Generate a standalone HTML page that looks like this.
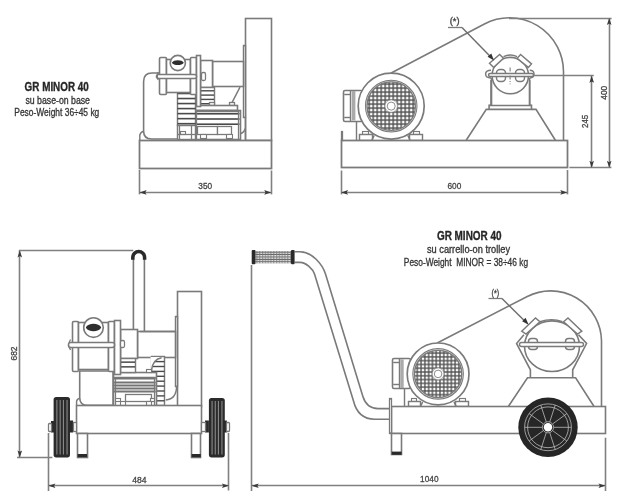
<!DOCTYPE html>
<html><head><meta charset="utf-8"><style>
html,body{margin:0;padding:0;background:#fff;}
svg{display:block;}
text{font-family:"Liberation Sans",sans-serif;}
</style></head><body>
<svg width="617" height="500" viewBox="0 0 617 500">
<defs>
<pattern id="grA" width="4" height="4" patternUnits="userSpaceOnUse" x="389.20" y="104.10"><rect width="4" height="4" fill="#535353"/><rect x="0.73" y="0.73" width="2.55" height="2.55" fill="#fff"/></pattern>
<pattern id="grB" width="3.78" height="3.78" patternUnits="userSpaceOnUse" x="436.21" y="372.01"><rect width="3.78" height="3.78" fill="#535353"/><rect x="0.69" y="0.69" width="2.4" height="2.4" fill="#fff"/></pattern>
<pattern id="grip" width="2.8" height="2.4" patternUnits="userSpaceOnUse" x="255.4" y="251"><rect width="2.8" height="2.4" fill="#fff"/><rect x="0" y="0.6" width="2.8" height="1.1" fill="#555"/><rect x="1.2" y="0" width="0.9" height="2.4" fill="#777"/></pattern>
</defs>
<rect x="245.5" y="18.5" width="26.0" height="122.0" rx="0" fill="#fff" stroke="#7a7a7a" stroke-width="1.60"/>
<rect x="243.5" y="45.5" width="2.0" height="72.0" rx="0" fill="#fff" stroke="#7a7a7a" stroke-width="1.44"/>
<line x1="245.5" y1="117.5" x2="245.5" y2="140" stroke="#7a7a7a" stroke-width="1.44"/>
<path d="M245.3,128.5 Q244,133 239.5,134" fill="none" stroke="#7a7a7a" stroke-width="1.44"/>
<rect x="212.5" y="61.5" width="31.0" height="25.0" rx="0" fill="#fff" stroke="#7a7a7a" stroke-width="1.60"/>
<rect x="200.5" y="60.5" width="12.0" height="27.0" rx="0" fill="#fff" stroke="#7a7a7a" stroke-width="1.60"/>
<line x1="240" y1="87.2" x2="231.6" y2="103.4" stroke="#7a7a7a" stroke-width="1.44"/>
<rect x="200.5" y="87.5" width="14.0" height="18.0" rx="0" fill="#fff" stroke="#7a7a7a" stroke-width="1.44"/>
<rect x="200.5" y="90.10" width="13.50" height="1.4" fill="#4a4a4a"/>
<rect x="200.5" y="94.40" width="13.50" height="1.4" fill="#4a4a4a"/>
<rect x="200.5" y="98.70" width="13.50" height="1.4" fill="#4a4a4a"/>
<rect x="200.5" y="103.00" width="13.50" height="1.4" fill="#4a4a4a"/>
<rect x="229.5" y="102.5" width="5.0" height="3.0" rx="0" fill="#fff" stroke="#7a7a7a" stroke-width="1.28"/>
<rect x="209.5" y="102.5" width="5.0" height="3.0" rx="0" fill="#fff" stroke="#7a7a7a" stroke-width="1.28"/>
<rect x="195.5" y="105.5" width="42.0" height="5.0" rx="0" fill="#fff" stroke="#7a7a7a" stroke-width="1.60"/>
<rect x="195.5" y="110.5" width="45.0" height="29.0" rx="0" fill="#fff" stroke="#7a7a7a" stroke-width="1.60"/>
<line x1="196" y1="111.5" x2="239.5" y2="111.5" stroke="#7a7a7a" stroke-width="1.44"/>
<rect x="196" y="113.0" width="43.5" height="1.6" fill="#4a4a4a"/>
<rect x="196" y="118.2" width="43.5" height="1.6" fill="#4a4a4a"/>
<rect x="196" y="123.4" width="43.5" height="1.6" fill="#4a4a4a"/>
<line x1="196.5" y1="110.5" x2="196.5" y2="139.4" stroke="#7a7a7a" stroke-width="1.28"/>
<line x1="238.5" y1="110.5" x2="238.5" y2="139.4" stroke="#7a7a7a" stroke-width="1.28"/>
<rect x="197.5" y="126.5" width="20.0" height="8.0" rx="0" fill="#fff" stroke="#7a7a7a" stroke-width="1.28"/>
<rect x="217.5" y="126.5" width="14.0" height="8.0" rx="0" fill="#fff" stroke="#7a7a7a" stroke-width="1.28"/>
<rect x="200.5" y="134.5" width="6.0" height="4.0" rx="0" fill="#fff" stroke="#7a7a7a" stroke-width="1.12"/>
<rect x="226.5" y="134.5" width="6.0" height="4.0" rx="0" fill="#fff" stroke="#7a7a7a" stroke-width="1.12"/>
<path d="M143.6,131 L143.6,81.5 Q143.6,73 152,73 L185,73 L185,139 L151.6,139 Q143.6,139 143.6,131 Z" fill="#fff" stroke="#7a7a7a" stroke-width="1.60"/>
<path d="M139.8,140 L139.8,135 Q141,131.5 143.6,131.5" fill="none" stroke="#7a7a7a" stroke-width="1.44"/>
<rect x="177.5" y="92.5" width="18.0" height="33.0" rx="0" fill="#fff" stroke="#7a7a7a" stroke-width="1.44"/>
<rect x="177.4" y="92.70" width="18.20" height="1.6" fill="#4a4a4a"/>
<rect x="177.4" y="97.73" width="18.20" height="1.6" fill="#4a4a4a"/>
<rect x="177.4" y="102.76" width="18.20" height="1.6" fill="#4a4a4a"/>
<rect x="177.4" y="107.79" width="18.20" height="1.6" fill="#4a4a4a"/>
<rect x="177.4" y="112.82" width="18.20" height="1.6" fill="#4a4a4a"/>
<rect x="177.4" y="117.85" width="18.20" height="1.6" fill="#4a4a4a"/>
<rect x="177.4" y="122.88" width="18.20" height="1.6" fill="#4a4a4a"/>
<rect x="177.5" y="125.5" width="18.0" height="14.0" rx="0" fill="#fff" stroke="#7a7a7a" stroke-width="1.44"/>
<line x1="179.5" y1="125.2" x2="179.5" y2="139.4" stroke="#7a7a7a" stroke-width="1.28"/>
<line x1="191.5" y1="125.2" x2="191.5" y2="139.4" stroke="#7a7a7a" stroke-width="1.28"/>
<rect x="180.5" y="131.5" width="5.0" height="3.0" rx="0" fill="#fff" stroke="#7a7a7a" stroke-width="1.12"/>
<line x1="177.4" y1="134.5" x2="195.6" y2="134.5" stroke="#7a7a7a" stroke-width="1.28"/>
<rect x="159.5" y="57.5" width="7.0" height="37.0" rx="1.2" fill="#fff" stroke="#7a7a7a" stroke-width="1.60"/>
<rect x="166.5" y="59.5" width="24.0" height="33.0" rx="0" fill="#fff" stroke="#7a7a7a" stroke-width="1.60"/>
<rect x="190.5" y="57.5" width="6.0" height="37.0" rx="1" fill="#fff" stroke="#7a7a7a" stroke-width="1.60"/>
<rect x="196.5" y="55.5" width="4.0" height="51.0" rx="0" fill="#fff" stroke="#7a7a7a" stroke-width="1.60"/>
<circle cx="177.8" cy="63" r="7.6" fill="#fff" stroke="#7a7a7a" stroke-width="1.60"/>
<path d="M171.8,62.7 C173.5,59.4 182.1,59.4 183.8,62.7 C182.1,65.9 173.5,65.9 171.8,62.7 Z" fill="#2e2e2e"/>
<rect x="156.5" y="74.5" width="40.0" height="4.0" rx="2" fill="#fff" stroke="#7a7a7a" stroke-width="1.60"/>
<path d="M158,72 Q156.5,76 158,80" fill="none" stroke="#7a7a7a" stroke-width="1.28"/>
<rect x="201.5" y="72.5" width="4.0" height="8.0" rx="1.5" fill="#fff" stroke="#7a7a7a" stroke-width="1.28"/>
<rect x="139.5" y="140.5" width="132.0" height="28.0" rx="0" fill="#fff" stroke="#7a7a7a" stroke-width="1.76"/>
<path d="M391.2,73 L484.4,24 A54,54 0 0 1 563.5,72 L563.5,140.2" fill="#fff" stroke="#7a7a7a" stroke-width="1.60"/>
<path d="M466.2,140.3 L486.3,109.4 L536,109.4 L555.4,140.3" fill="#fff" stroke="#7a7a7a" stroke-width="1.60"/>
<path d="M489.1,109.4 L489.1,105.2 L491,105.2 L491,80 M529.7,80 L529.7,105.2 L531.5,105.2 L531.5,109.4" fill="none" stroke="#7a7a7a" stroke-width="1.60"/>
<rect x="491.5" y="80.5" width="38.0" height="25.0" rx="0" fill="#fff" stroke="#7a7a7a" stroke-width="0.00"/>
<line x1="491.5" y1="78" x2="491.5" y2="105.2" stroke="#7a7a7a" stroke-width="1.60"/>
<line x1="529.5" y1="78" x2="529.5" y2="105.2" stroke="#7a7a7a" stroke-width="1.60"/>
<line x1="489.1" y1="105.5" x2="531.5" y2="105.5" stroke="#7a7a7a" stroke-width="1.44"/>
<circle cx="510.3" cy="75.6" r="18.2" fill="#fff" stroke="#7a7a7a" stroke-width="1.60"/>
<path d="M503.5,56.6 Q510.3,53.5 517.1,56.6" fill="none" stroke="#7a7a7a" stroke-width="1.44"/>
<polygon points="489.5,63.2 499.6,54.5 503.5,58.3 493.7,67.4" fill="#fff" stroke="#7a7a7a" stroke-width="1.44"/>
<polygon points="520.6,54.5 531.5,63.9 528.3,67.4 517.1,58.3" fill="#fff" stroke="#7a7a7a" stroke-width="1.44"/>
<rect x="496.5" y="69.5" width="9.0" height="12.0" rx="3.5" fill="#fff" stroke="#7a7a7a" stroke-width="1.44"/>
<rect x="515.5" y="69.5" width="9.0" height="12.0" rx="3.5" fill="#fff" stroke="#7a7a7a" stroke-width="1.44"/>
<path d="M491,70.2 Q485.6,70.2 485.6,74.1 Q485.6,78 491,78" fill="none" stroke="#7a7a7a" stroke-width="1.44"/>
<path d="M529.7,70.2 Q534,70.2 534,74.1 Q534,78 529.7,78" fill="none" stroke="#7a7a7a" stroke-width="1.44"/>
<rect x="488.5" y="73.5" width="45.0" height="3.0" rx="1.6" fill="#fff" stroke="#7a7a7a" stroke-width="1.44"/>
<line x1="510.1" y1="67.4" x2="510.1" y2="84.2" stroke="#808080" stroke-width="1.12" stroke-dasharray="4,1.5,1,1.5"/>
<line x1="448" y1="27.5" x2="462" y2="27.5" stroke="#7a7a7a" stroke-width="1.28"/>
<line x1="462" y1="27.4" x2="491.5" y2="57.8" stroke="#6e6e6e" stroke-width="1.44"/>
<polygon points="494,60.5 487.6,56.8 491.3,53.4" fill="#333"/>
<rect x="343.5" y="90.5" width="19.0" height="31.0" rx="1.5" fill="#fff" stroke="#7a7a7a" stroke-width="1.60"/>
<line x1="350.5" y1="90.4" x2="350.5" y2="121" stroke="#7a7a7a" stroke-width="1.44"/>
<line x1="344.2" y1="94.5" x2="350.6" y2="94.5" stroke="#7a7a7a" stroke-width="1.44"/>
<line x1="344.2" y1="117.5" x2="350.6" y2="117.5" stroke="#7a7a7a" stroke-width="1.44"/>
<rect x="351.8" y="90.9" width="3.6" height="29.6" fill="#aaa"/>
<line x1="356.5" y1="121" x2="356.5" y2="140.2" stroke="#7a7a7a" stroke-width="1.44"/>
<rect x="362.5" y="131.5" width="6.0" height="3.0" rx="0" fill="#fff" stroke="#7a7a7a" stroke-width="1.12"/>
<rect x="413.5" y="131.5" width="6.0" height="3.0" rx="0" fill="#fff" stroke="#7a7a7a" stroke-width="1.12"/>
<rect x="359.5" y="134.5" width="13.0" height="6.0" rx="0" fill="#fff" stroke="#7a7a7a" stroke-width="1.44"/>
<rect x="409.5" y="134.5" width="13.0" height="6.0" rx="0" fill="#fff" stroke="#7a7a7a" stroke-width="1.44"/>
<line x1="372" y1="140" x2="374.2" y2="135.4" stroke="#7a7a7a" stroke-width="1.44"/>
<line x1="410" y1="140" x2="407.8" y2="135.4" stroke="#7a7a7a" stroke-width="1.44"/>
<circle cx="391.2" cy="106.1" r="33" fill="#fff" stroke="#7a7a7a" stroke-width="1.68"/>
<circle cx="391.2" cy="106.1" r="25.5" fill="url(#grA)" stroke="#7a7a7a" stroke-width="1.60"/>
<circle cx="391.2" cy="106.1" r="24.85" fill="none" stroke="#fff" stroke-width="0.7"/>
<circle cx="391.2" cy="106.1" r="24.2" fill="none" stroke="#7a7a7a" stroke-width="1.28"/>
<circle cx="391.2" cy="106.1" r="6.2" fill="#fff" stroke="#999" stroke-width="0.6"/>
<circle cx="391.2" cy="106.1" r="4" fill="#fff" stroke="#707070" stroke-width="0.8"/>
<rect x="341.5" y="140.5" width="226.0" height="27.0" rx="0" fill="#fff" stroke="#7a7a7a" stroke-width="1.76"/>
<rect x="341.5" y="131.5" width="1.0" height="9.0" rx="0" fill="#fff" stroke="#7a7a7a" stroke-width="1.28"/>
<rect x="177.5" y="291.5" width="24.0" height="115.0" rx="0" fill="#fff" stroke="#7a7a7a" stroke-width="1.60"/>
<rect x="175.5" y="316.5" width="2.0" height="70.0" rx="0" fill="#fff" stroke="#7a7a7a" stroke-width="1.44"/>
<path d="M176.6,386 Q176.6,399 165.8,400" fill="none" stroke="#7a7a7a" stroke-width="1.44"/>
<path d="M133.4,329.4 L133.4,257.5 A5.5,5.5 0 0 1 144.4,257.5 L144.4,331.4" fill="#fff" stroke="#7a7a7a" stroke-width="1.60"/>
<path d="M132.8,259.8 L132.8,257.5 A5.9,5.9 0 0 1 144.6,257.5 L144.6,259.8" fill="none" stroke="#2a2a2a" stroke-width="3.52"/>
<rect x="137.5" y="331.5" width="38.0" height="26.0" rx="0" fill="#fff" stroke="#7a7a7a" stroke-width="1.60"/>
<rect x="120.5" y="329.5" width="17.0" height="29.0" rx="0" fill="#fff" stroke="#7a7a7a" stroke-width="1.60"/>
<line x1="140" y1="331.5" x2="175.4" y2="331.5" stroke="#7a7a7a" stroke-width="1.60"/>
<rect x="151.5" y="356.5" width="13.0" height="49.0" rx="0" fill="#fff" stroke="#7a7a7a" stroke-width="1.44"/>
<rect x="151" y="360.90" width="13.50" height="1.4" fill="#4a4a4a"/>
<rect x="151" y="365.80" width="13.50" height="1.4" fill="#4a4a4a"/>
<rect x="151" y="370.70" width="13.50" height="1.4" fill="#4a4a4a"/>
<rect x="151" y="375.60" width="13.50" height="1.4" fill="#4a4a4a"/>
<rect x="151" y="380.50" width="13.50" height="1.4" fill="#4a4a4a"/>
<rect x="151" y="385.40" width="13.50" height="1.4" fill="#4a4a4a"/>
<rect x="151" y="390.30" width="13.50" height="1.4" fill="#4a4a4a"/>
<rect x="151" y="395.20" width="13.50" height="1.4" fill="#4a4a4a"/>
<rect x="151" y="400.10" width="13.50" height="1.4" fill="#4a4a4a"/>
<path d="M150.5,357.1 L161.6,357.1 Q153,359 151.4,370.4 L150.5,370.4 Z" fill="#fff"/>
<path d="M151.4,370.4 Q153,359 161.6,357.8" fill="none" stroke="#7a7a7a" stroke-width="1.44"/>
<rect x="113.5" y="372.5" width="43.0" height="34.0" rx="0" fill="#fff" stroke="#7a7a7a" stroke-width="1.60"/>
<line x1="113.5" y1="377.5" x2="155.7" y2="377.5" stroke="#7a7a7a" stroke-width="1.44"/>
<line x1="113.5" y1="378.5" x2="155.7" y2="378.5" stroke="#747474" stroke-width="1.92"/>
<line x1="113.5" y1="382.5" x2="155.7" y2="382.5" stroke="#747474" stroke-width="1.92"/>
<line x1="113.5" y1="385.5" x2="155.7" y2="385.5" stroke="#747474" stroke-width="1.92"/>
<line x1="113.5" y1="388.5" x2="155.7" y2="388.5" stroke="#747474" stroke-width="1.92"/>
<line x1="113.5" y1="391.5" x2="155.7" y2="391.5" stroke="#747474" stroke-width="1.92"/>
<line x1="115.5" y1="377" x2="115.5" y2="405.6" stroke="#7a7a7a" stroke-width="1.28"/>
<line x1="154.5" y1="377" x2="154.5" y2="405.6" stroke="#7a7a7a" stroke-width="1.28"/>
<rect x="125.5" y="394.5" width="26.0" height="7.0" rx="0" fill="#fff" stroke="#7a7a7a" stroke-width="1.28"/>
<rect x="126.5" y="369.5" width="5.0" height="3.0" rx="0" fill="#fff" stroke="#7a7a7a" stroke-width="1.12"/>
<rect x="146.5" y="369.5" width="5.0" height="3.0" rx="0" fill="#fff" stroke="#7a7a7a" stroke-width="1.12"/>
<rect x="115.5" y="398.5" width="5.0" height="3.0" rx="0" fill="#fff" stroke="#7a7a7a" stroke-width="1.12"/>
<rect x="150.5" y="398.5" width="4.0" height="3.0" rx="0" fill="#fff" stroke="#7a7a7a" stroke-width="1.12"/>
<rect x="120.5" y="401.5" width="5.0" height="4.0" rx="0" fill="#fff" stroke="#7a7a7a" stroke-width="1.12"/>
<rect x="146.5" y="401.5" width="5.0" height="4.0" rx="0" fill="#fff" stroke="#7a7a7a" stroke-width="1.12"/>
<rect x="120.5" y="358.5" width="15.0" height="14.0" rx="0" fill="#fff" stroke="#7a7a7a" stroke-width="1.44"/>
<rect x="120.8" y="361.40" width="14.20" height="1.5" fill="#4a4a4a"/>
<rect x="120.8" y="366.10" width="14.20" height="1.5" fill="#4a4a4a"/>
<path d="M79.7,371 L79.7,397.5 Q79.7,405.4 87.6,405.4 L113,405.4 L113,371 Z" fill="#fff" stroke="#7a7a7a" stroke-width="1.60"/>
<path d="M76.6,405.6 L76.6,401 Q77.5,398.5 79.7,398.5" fill="none" stroke="#7a7a7a" stroke-width="1.44"/>
<rect x="72.5" y="321.5" width="6.0" height="50.0" rx="1.2" fill="#fff" stroke="#7a7a7a" stroke-width="1.60"/>
<rect x="78.5" y="322.5" width="30.0" height="47.0" rx="0" fill="#fff" stroke="#7a7a7a" stroke-width="1.60"/>
<rect x="108.5" y="321.5" width="6.0" height="50.0" rx="1" fill="#fff" stroke="#7a7a7a" stroke-width="1.60"/>
<rect x="114.5" y="320.5" width="6.0" height="54.0" rx="0" fill="#fff" stroke="#7a7a7a" stroke-width="1.60"/>
<circle cx="93.5" cy="327.6" r="9.8" fill="#fff" stroke="#7a7a7a" stroke-width="1.60"/>
<path d="M85.8,327.6 C88,322.6 99,322.6 101.2,327.6 C99,332.6 88,332.6 85.8,327.6 Z" fill="#2e2e2e"/>
<path d="M70.5,339.5 Q67.5,344.7 70.5,350" fill="none" stroke="#7a7a7a" stroke-width="1.28"/>
<rect x="68.5" y="342.5" width="46.0" height="5.0" rx="2.2" fill="#fff" stroke="#7a7a7a" stroke-width="1.60"/>
<rect x="120.5" y="340.5" width="4.0" height="7.0" rx="1.5" fill="#fff" stroke="#7a7a7a" stroke-width="1.28"/>
<rect x="76.5" y="405.5" width="125.0" height="28.0" rx="0" fill="#fff" stroke="#7a7a7a" stroke-width="1.60"/>
<rect x="77.5" y="433.5" width="10.0" height="24.0" rx="0" fill="#fff" stroke="#7a7a7a" stroke-width="1.60"/>
<rect x="77.6" y="454" width="9.4" height="3.2" fill="#2a2a2a"/>
<rect x="191.5" y="433.5" width="9.0" height="24.0" rx="0" fill="#fff" stroke="#7a7a7a" stroke-width="1.60"/>
<rect x="191.6" y="454" width="9.2" height="3.2" fill="#2a2a2a"/>
<rect x="53.6" y="397" width="16.40" height="60.40" rx="2.6" fill="#2b2b2b"/>
<line x1="56.88" y1="400" x2="56.88" y2="454.4" stroke="#8a8a8a" stroke-width="1.1"/>
<line x1="60.16" y1="400" x2="60.16" y2="454.4" stroke="#8a8a8a" stroke-width="1.1"/>
<line x1="63.44" y1="400" x2="63.44" y2="454.4" stroke="#8a8a8a" stroke-width="1.1"/>
<line x1="67.05" y1="400" x2="67.05" y2="454.4" stroke="#8a8a8a" stroke-width="1.1"/>
<rect x="208.9" y="398" width="15.90" height="59.40" rx="2.6" fill="#2b2b2b"/>
<line x1="212.08" y1="401" x2="212.08" y2="454.4" stroke="#8a8a8a" stroke-width="1.1"/>
<line x1="215.26" y1="401" x2="215.26" y2="454.4" stroke="#8a8a8a" stroke-width="1.1"/>
<line x1="218.44" y1="401" x2="218.44" y2="454.4" stroke="#8a8a8a" stroke-width="1.1"/>
<line x1="221.94" y1="401" x2="221.94" y2="454.4" stroke="#8a8a8a" stroke-width="1.1"/>
<rect x="51" y="421" width="3" height="11.5" fill="#2b2b2b"/>
<rect x="48.5" y="423.5" width="3.0" height="8.0" rx="1" fill="#fff" stroke="#7a7a7a" stroke-width="1.28"/>
<rect x="69.6" y="420.5" width="3.5" height="12" fill="#2b2b2b"/>
<rect x="73.5" y="422.5" width="3.0" height="9.0" rx="0" fill="#fff" stroke="#7a7a7a" stroke-width="1.28"/>
<rect x="205" y="420.5" width="3.9" height="12" fill="#2b2b2b"/>
<rect x="201.5" y="422.5" width="4.0" height="9.0" rx="0" fill="#fff" stroke="#7a7a7a" stroke-width="1.28"/>
<rect x="224" y="420.5" width="2.8" height="12" fill="#2b2b2b"/>
<rect x="226.5" y="422.5" width="3.0" height="9.0" rx="1" fill="#fff" stroke="#7a7a7a" stroke-width="1.28"/>
<path d="M437.2,343 L527.3,296.5 A50.9,50.9 0 0 1 601.5,340.6 L601.5,406.3" fill="#fff" stroke="#7a7a7a" stroke-width="1.60"/>
<path d="M508.5,406.3 L527.5,377.8 L575.6,377.8 L593.9,406.3" fill="#fff" stroke="#7a7a7a" stroke-width="1.60"/>
<path d="M530.4,377.8 L530.4,369.8 L516.6,343.5 L523.9,334.8 M572.7,377.8 L572.7,369.8 L586.6,343.5 L578.5,334.8" fill="#fff" stroke="#7a7a7a" stroke-width="1.60"/>
<ellipse cx="552" cy="346.2" rx="27.5" ry="25.3" fill="#fff" stroke="#7a7a7a" stroke-width="1.60"/>
<path d="M539.9,321.7 Q551.8,317.5 562.5,321.7" fill="none" stroke="#7a7a7a" stroke-width="1.44"/>
<polygon points="521.7,331.2 535.5,318 539.9,321.7 526,334" fill="#fff" stroke="#7a7a7a" stroke-width="1.44"/>
<polygon points="568,318 581.8,331.2 577.5,334 563.6,321.7" fill="#fff" stroke="#7a7a7a" stroke-width="1.44"/>
<rect x="528.5" y="338.5" width="9.0" height="11.0" rx="3" fill="#fff" stroke="#7a7a7a" stroke-width="1.44"/>
<rect x="565.5" y="338.5" width="9.0" height="11.0" rx="3" fill="#fff" stroke="#7a7a7a" stroke-width="1.44"/>
<rect x="519.5" y="342.5" width="64.0" height="4.0" rx="2" fill="#fff" stroke="#7a7a7a" stroke-width="1.44"/>
<line x1="488.5" y1="298.5" x2="502" y2="298.5" stroke="#7a7a7a" stroke-width="1.28"/>
<line x1="502" y1="298.5" x2="526" y2="322.2" stroke="#6e6e6e" stroke-width="1.44"/>
<polygon points="528.6,324.8 522.1,321.2 525.6,317.7" fill="#333"/>
<path d="M294.6,251.7 L300,251.7 C312,251.7 322.5,264.5 325.5,274 L362.8,396.3 Q366.6,408.6 378,408.6 L390,408.6" fill="none" stroke="#7a7a7a" stroke-width="1.60"/>
<path d="M294.6,262.4 L300,262.4 C306,262.4 313,269.2 314.5,274 L353.5,401 Q358,419.2 374.7,419.2 L390,419.2" fill="none" stroke="#7a7a7a" stroke-width="1.60"/>
<rect x="255.4" y="251" width="35.6" height="12.4" fill="url(#grip)"/>
<rect x="251.7" y="250" width="3.8" height="14.3" rx="1" fill="#2a2a2a"/>
<rect x="291" y="250" width="3.6" height="14.3" rx="1" fill="#2a2a2a"/>
<rect x="392.5" y="358.5" width="18.0" height="30.0" rx="1.5" fill="#fff" stroke="#7a7a7a" stroke-width="1.60"/>
<line x1="399.5" y1="358.8" x2="399.5" y2="388.5" stroke="#7a7a7a" stroke-width="1.44"/>
<line x1="393.2" y1="362.5" x2="399.2" y2="362.5" stroke="#7a7a7a" stroke-width="1.44"/>
<line x1="393.2" y1="384.5" x2="399.2" y2="384.5" stroke="#7a7a7a" stroke-width="1.44"/>
<rect x="400.3" y="359.3" width="3.4" height="28.7" fill="#aaa"/>
<line x1="404.5" y1="388.5" x2="404.5" y2="406.3" stroke="#7a7a7a" stroke-width="1.44"/>
<rect x="411.5" y="398.5" width="5.0" height="3.0" rx="0" fill="#fff" stroke="#7a7a7a" stroke-width="1.12"/>
<rect x="459.5" y="398.5" width="6.0" height="3.0" rx="0" fill="#fff" stroke="#7a7a7a" stroke-width="1.12"/>
<rect x="408.5" y="401.5" width="12.0" height="5.0" rx="0" fill="#fff" stroke="#7a7a7a" stroke-width="1.44"/>
<rect x="455.5" y="401.5" width="13.0" height="5.0" rx="0" fill="#fff" stroke="#7a7a7a" stroke-width="1.44"/>
<line x1="420.6" y1="406.1" x2="422.7" y2="401.9" stroke="#7a7a7a" stroke-width="1.44"/>
<line x1="456" y1="406.1" x2="454" y2="401.9" stroke="#7a7a7a" stroke-width="1.44"/>
<circle cx="438.1" cy="373.9" r="30.9" fill="#fff" stroke="#7a7a7a" stroke-width="1.68"/>
<circle cx="438.1" cy="373.9" r="25" fill="url(#grB)" stroke="#7a7a7a" stroke-width="1.60"/>
<circle cx="438.1" cy="373.9" r="24.3" fill="none" stroke="#fff" stroke-width="0.7"/>
<circle cx="438.1" cy="373.9" r="23.6" fill="none" stroke="#7a7a7a" stroke-width="1.28"/>
<circle cx="438.1" cy="373.9" r="5.8" fill="#fff" stroke="#999" stroke-width="0.6"/>
<circle cx="438.1" cy="373.9" r="3.8" fill="#fff" stroke="#707070" stroke-width="0.8"/>
<rect x="391.5" y="406.5" width="214.0" height="27.0" rx="0" fill="#fff" stroke="#7a7a7a" stroke-width="1.60"/>
<rect x="389.5" y="398.5" width="2.0" height="35.0" rx="0" fill="#fff" stroke="#7a7a7a" stroke-width="1.28"/>
<rect x="391.5" y="433.5" width="10.0" height="21.0" rx="0" fill="#fff" stroke="#7a7a7a" stroke-width="1.60"/>
<rect x="391.8" y="451.6" width="9.8" height="3.2" fill="#2a2a2a"/>
<circle cx="548" cy="427.3" r="29.7" fill="#262626" stroke="none" stroke-width="0"/>
<circle cx="548" cy="427.3" r="23.4" fill="none" stroke="#bbb" stroke-width="0.8"/>
<circle cx="548" cy="427.3" r="20.4" fill="none" stroke="#bbb" stroke-width="0.8"/>
<line x1="553.60" y1="427.30" x2="571.40" y2="427.30" stroke="#bbb" stroke-width="0.8"/>
<line x1="552.53" y1="430.59" x2="566.93" y2="441.05" stroke="#bbb" stroke-width="0.8"/>
<line x1="549.73" y1="432.63" x2="555.23" y2="449.55" stroke="#bbb" stroke-width="0.8"/>
<line x1="546.27" y1="432.63" x2="540.77" y2="449.55" stroke="#bbb" stroke-width="0.8"/>
<line x1="543.47" y1="430.59" x2="529.07" y2="441.05" stroke="#bbb" stroke-width="0.8"/>
<line x1="542.40" y1="427.30" x2="524.60" y2="427.30" stroke="#bbb" stroke-width="0.8"/>
<line x1="543.47" y1="424.01" x2="529.07" y2="413.55" stroke="#bbb" stroke-width="0.8"/>
<line x1="546.27" y1="421.97" x2="540.77" y2="405.05" stroke="#bbb" stroke-width="0.8"/>
<line x1="549.73" y1="421.97" x2="555.23" y2="405.05" stroke="#bbb" stroke-width="0.8"/>
<line x1="552.53" y1="424.01" x2="566.93" y2="413.55" stroke="#bbb" stroke-width="0.8"/>
<circle cx="548" cy="427.3" r="5.6" fill="#262626" stroke="#bbb" stroke-width="0.8"/>
<circle cx="548" cy="427.3" r="4.2" fill="#fff" stroke="none" stroke-width="0"/>
<line x1="139.5" y1="170" x2="139.5" y2="194.4" stroke="#808080" stroke-width="1.60"/>
<line x1="271.5" y1="170.5" x2="271.5" y2="194.4" stroke="#808080" stroke-width="1.60"/>
<line x1="139.6" y1="192.5" x2="271.2" y2="192.5" stroke="#808080" stroke-width="1.60"/>
<polygon points="139.60,192.40 146.60,190.10 145.20,192.40 146.60,194.70" fill="#3a3a3a"/>
<polygon points="271.20,192.40 264.20,190.10 265.60,192.40 264.20,194.70" fill="#3a3a3a"/>
<line x1="341.5" y1="170.5" x2="341.5" y2="194.4" stroke="#808080" stroke-width="1.60"/>
<line x1="567.5" y1="170" x2="567.5" y2="194.4" stroke="#808080" stroke-width="1.60"/>
<line x1="341.1" y1="192.5" x2="567.3" y2="192.5" stroke="#808080" stroke-width="1.60"/>
<polygon points="341.10,192.40 348.10,190.10 346.70,192.40 348.10,194.70" fill="#3a3a3a"/>
<polygon points="567.30,192.40 560.30,190.10 561.70,192.40 560.30,194.70" fill="#3a3a3a"/>
<line x1="534" y1="75.5" x2="593.8" y2="75.5" stroke="#808080" stroke-width="1.44"/>
<line x1="509" y1="18.5" x2="611.6" y2="18.5" stroke="#808080" stroke-width="1.44"/>
<line x1="569.4" y1="167.5" x2="611.4" y2="167.5" stroke="#808080" stroke-width="1.44"/>
<line x1="591.5" y1="75.8" x2="591.5" y2="167.8" stroke="#808080" stroke-width="1.60"/>
<polygon points="591.70,75.80 589.40,82.80 591.70,81.40 594.00,82.80" fill="#3a3a3a"/>
<polygon points="591.70,167.80 589.40,160.80 591.70,162.20 594.00,160.80" fill="#3a3a3a"/>
<line x1="609.5" y1="18" x2="609.5" y2="167.8" stroke="#808080" stroke-width="1.60"/>
<polygon points="609.20,18.00 606.90,25.00 609.20,23.60 611.50,25.00" fill="#3a3a3a"/>
<polygon points="609.20,167.80 606.90,160.80 609.20,162.20 611.50,160.80" fill="#3a3a3a"/>
<line x1="18.9" y1="250.5" x2="133.3" y2="250.5" stroke="#808080" stroke-width="1.44"/>
<line x1="17" y1="457.5" x2="52.4" y2="457.5" stroke="#808080" stroke-width="1.44"/>
<line x1="19.5" y1="250.5" x2="19.5" y2="457.4" stroke="#808080" stroke-width="1.60"/>
<polygon points="19.80,250.50 17.50,257.50 19.80,256.10 22.10,257.50" fill="#3a3a3a"/>
<polygon points="19.80,457.40 17.50,450.40 19.80,451.80 22.10,450.40" fill="#3a3a3a"/>
<line x1="48.5" y1="433" x2="48.5" y2="491" stroke="#808080" stroke-width="1.60"/>
<line x1="228.5" y1="433" x2="228.5" y2="490.5" stroke="#808080" stroke-width="1.60"/>
<line x1="48.4" y1="485.5" x2="228.9" y2="485.5" stroke="#808080" stroke-width="1.60"/>
<polygon points="48.40,485.70 55.40,483.40 54.00,485.70 55.40,488.00" fill="#3a3a3a"/>
<polygon points="228.90,485.70 221.90,483.40 223.30,485.70 221.90,488.00" fill="#3a3a3a"/>
<line x1="251.5" y1="265" x2="251.5" y2="491" stroke="#808080" stroke-width="1.60"/>
<line x1="605.5" y1="437.7" x2="605.5" y2="491" stroke="#808080" stroke-width="1.60"/>
<line x1="251.7" y1="485.5" x2="605.5" y2="485.5" stroke="#808080" stroke-width="1.60"/>
<polygon points="251.70,485.80 258.70,483.50 257.30,485.80 258.70,488.10" fill="#3a3a3a"/>
<polygon points="605.50,485.80 598.50,483.50 599.90,485.80 598.50,488.10" fill="#3a3a3a"/>
<g style="will-change:transform" opacity="0.999">
<text x="24.6" y="90.6" font-size="12" font-weight="bold" textLength="64.2" lengthAdjust="spacingAndGlyphs" fill="#262626" stroke="#262626" stroke-width="0.32" text-anchor="start">GR MINOR 40</text>
<text x="25.4" y="103.6" font-size="10" textLength="64.6" lengthAdjust="spacingAndGlyphs" fill="#363636" stroke="#363636" stroke-width="0.32" text-anchor="start">su base-on base</text>
<text x="14.3" y="115.6" font-size="10" textLength="85" lengthAdjust="spacingAndGlyphs" fill="#363636" stroke="#363636" stroke-width="0.32" text-anchor="start">Peso-Weight 36÷45 kg</text>
<text x="436.9" y="239.7" font-size="12" font-weight="bold" textLength="64.7" lengthAdjust="spacingAndGlyphs" fill="#262626" stroke="#262626" stroke-width="0.32" text-anchor="start">GR MINOR 40</text>
<text x="427" y="253.4" font-size="10" textLength="83" lengthAdjust="spacingAndGlyphs" fill="#363636" stroke="#363636" stroke-width="0.32" text-anchor="start">su carrello-on trolley</text>
<text x="403.8" y="266.1" font-size="10" textLength="124.3" lengthAdjust="spacingAndGlyphs" fill="#363636" stroke="#363636" stroke-width="0.32" text-anchor="start">Peso-Weight &#160;MINOR = 38÷46 kg</text>
<text x="198.3" y="188.7" font-size="9.6" textLength="13.8" lengthAdjust="spacingAndGlyphs" fill="#444" stroke="#444" stroke-width="0.32" text-anchor="start">350</text>
<text x="447.5" y="188.7" font-size="9.6" textLength="13.8" lengthAdjust="spacingAndGlyphs" fill="#444" stroke="#444" stroke-width="0.32" text-anchor="start">600</text>
<text x="132.2" y="483.2" font-size="9.6" textLength="14.3" lengthAdjust="spacingAndGlyphs" fill="#444" stroke="#444" stroke-width="0.32" text-anchor="start">484</text>
<text x="420.1" y="482.4" font-size="9.6" textLength="18.4" lengthAdjust="spacingAndGlyphs" fill="#444" stroke="#444" stroke-width="0.32" text-anchor="start">1040</text>
<text x="16.5" y="353.5" font-size="9.6" textLength="14" lengthAdjust="spacingAndGlyphs" fill="#444" stroke="#444" stroke-width="0.32" text-anchor="middle" transform="rotate(-90 16.5 353.5)">682</text>
<text x="588.2" y="121.4" font-size="9.6" textLength="13.2" lengthAdjust="spacingAndGlyphs" fill="#444" stroke="#444" stroke-width="0.32" text-anchor="middle" transform="rotate(-90 588.2 121.4)">245</text>
<text x="606.6" y="92.7" font-size="9.6" textLength="14" lengthAdjust="spacingAndGlyphs" fill="#444" stroke="#444" stroke-width="0.32" text-anchor="middle" transform="rotate(-90 606.6 92.7)">400</text>
<text x="449.7" y="24.4" font-size="8.4" textLength="9.8" lengthAdjust="spacingAndGlyphs" fill="#444" stroke="#444" stroke-width="0.32" text-anchor="start">(*)</text>
<text x="491.6" y="295.6" font-size="8.4" textLength="7.6" lengthAdjust="spacingAndGlyphs" fill="#444" stroke="#444" stroke-width="0.32" text-anchor="start">(*)</text>
</g>
</svg>
</body></html>
